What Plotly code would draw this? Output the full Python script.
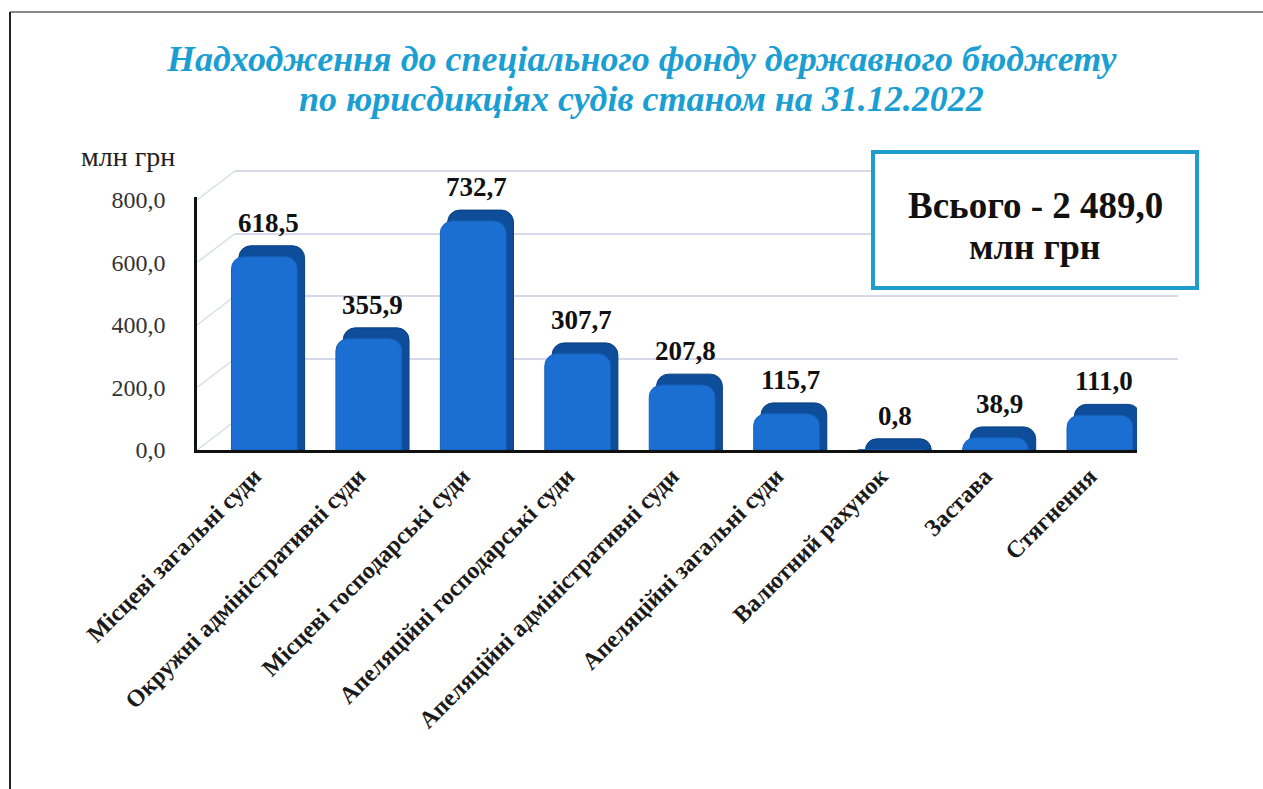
import plotly.graph_objects as go

categories = [
    "Місцеві загальні суди",
    "Окружні адміністративні суди",
    "Місцеві господарські суди",
    "Апеляційні господарські суди",
    "Апеляційні адміністративні суди",
    "Апеляційні загальні суди",
    "Валютний рахунок",
    "Застава",
    "Стягнення",
]
values = [618.5, 355.9, 732.7, 307.7, 207.8, 115.7, 0.8, 38.9, 111.0]
y_ticks = [0, 200, 400, 600, 800]
title_lines = [
    "Надходження до спеціального фонду державного бюджету",
    "по юрисдикціях судів станом на 31.12.2022",
]
unit = "млн грн"


def fmt(v):
    return f"{v:,.1f}".replace(",", " ").replace(".", ",")


W, H = 1263, 789


def fx(p):
    return p / W


def fy(p):
    return 1 - p / H


SERIF = "Liberation Serif, Times New Roman, serif"

# pixel geometry of the plot
x0_px, x1_px = 197, 1137
base_px = 450
px_per_unit = 250 / 800
y_top_val = 810
top_px = base_px - y_top_val * px_per_unit
depth_dx, depth_dy = 38, 29
grid_top_val = 815

BAR_W = 0.63
SIDE_DX = 0.07      # extrusion shift (category units)
SIDE_DY = 35        # extrusion height (value units)

fig = go.Figure()

# invisible trace hosting the back-wall grid (subplot xy, drawn first -> below)
fig.add_trace(go.Scatter(x=[0.5], y=[0], xaxis="x", yaxis="y", mode="markers",
                         marker=dict(opacity=0), hoverinfo="skip", showlegend=False))

# back/extrusion face of the pseudo-3D bars
fig.add_trace(go.Bar(
    x=categories, y=[v + SIDE_DY for v in values], width=BAR_W,
    offset=-0.35 + SIDE_DX, xaxis="x2", yaxis="y2",
    marker=dict(color="#0e4d9a", line=dict(color="#0a3f80", width=1), cornerradius=12),
    hoverinfo="skip", showlegend=False,
))
# front face
fig.add_trace(go.Bar(
    x=categories, y=values, width=BAR_W, offset=-0.35, xaxis="x2", yaxis="y2",
    marker=dict(color="#1b6fd2", line=dict(color="#1560b8", width=1), cornerradius=12),
    hoverinfo="x+y", showlegend=False,
))

for c, v in zip(categories, values):
    fig.add_annotation(x=c, y=v, xref="x2", yref="y2", text=f"<b>{fmt(v)}</b>", showarrow=False,
                       yshift=34, font=dict(family=SERIF, size=27, color="#111"))

layout_shapes = []
# left-wall diagonals
for t in y_ticks:
    ya = base_px - t * px_per_unit
    layout_shapes.append(dict(type="line", xref="paper", yref="paper",
                              x0=fx(x0_px), y0=fy(ya), x1=fx(x0_px + depth_dx), y1=fy(ya - depth_dy),
                              line=dict(color="#d9dceb", width=1.5), layer="below"))

# total box
layout_shapes.append(dict(type="rect", xref="paper", yref="paper",
                          x0=fx(873), y0=fy(152), x1=fx(1197), y1=fy(288),
                          line=dict(color="#1f9dcc", width=4), fillcolor="white", layer="above"))
# page frame
layout_shapes.append(dict(type="line", xref="paper", yref="paper", x0=fx(10), y0=fy(12), x1=1, y1=fy(12),
                          line=dict(color="#8a8a8a", width=2)))
layout_shapes.append(dict(type="line", xref="paper", yref="paper", x0=fx(10), y0=fy(12), x1=fx(10), y1=0,
                          line=dict(color="#222", width=2)))

fig.update_layout(
    width=W, height=H, autosize=False,
    margin=dict(l=0, r=0, t=0, b=0, pad=0),
    paper_bgcolor="white", plot_bgcolor="rgba(0,0,0,0)",
    barmode="overlay",
    # back wall grid
    xaxis=dict(domain=[fx(x0_px + depth_dx), fx(1178)], range=[0, 1], showgrid=False,
               showticklabels=False, zeroline=False, showline=False, anchor="y", automargin=False),
    yaxis=dict(domain=[fy(base_px - depth_dy), fy(base_px - depth_dy - grid_top_val * px_per_unit)],
               range=[0, grid_top_val], tickvals=y_ticks, showticklabels=False, showgrid=True,
               gridcolor="#d6d9ea", gridwidth=1.5, zeroline=False, showline=False, anchor="x",
               automargin=False),
    # main bar axes
    xaxis2=dict(domain=[fx(x0_px), fx(x1_px)], type="category", range=[-0.68, 8.32],
                tickangle=-45, tickfont=dict(family=SERIF, size=24, color="#1a1a1a"),
                tickprefix="<b>", ticksuffix="</b>", ticklabelshift=-14,
                showline=True, linecolor="#111", linewidth=2.5, showgrid=False, zeroline=False,
                ticks="", anchor="y2", automargin=False),
    yaxis2=dict(domain=[fy(base_px), fy(top_px)], range=[0, y_top_val],
                tickvals=y_ticks, ticktext=[fmt(t) for t in y_ticks],
                tickfont=dict(family=SERIF, size=24, color="#333"), ticklabelstandoff=24,
                showline=True, linecolor="#111", linewidth=2.5, showgrid=False, zeroline=False,
                ticks="", anchor="x2", automargin=False),
    shapes=layout_shapes,
)

# title (two lines)
for line, ypx in zip(title_lines, [59, 99]):
    fig.add_annotation(xref="paper", yref="paper", x=fx(641), y=fy(ypx), xanchor="center", yanchor="middle",
                       text=f"<b><i>{line}</i></b>", showarrow=False,
                       font=dict(family=SERIF, size=36, color="#1b9fd3"))
# unit label
fig.add_annotation(xref="paper", yref="paper", x=fx(128), y=fy(156), xanchor="center", yanchor="middle",
                   text=unit, showarrow=False, font=dict(family=SERIF, size=28, color="#222"))
# total box text
total = sum(values)
fig.add_annotation(xref="paper", yref="paper", x=fx(1035), y=fy(205), xanchor="center", yanchor="middle",
                   text=f"<b>Всього - {fmt(total)}</b>", showarrow=False,
                   font=dict(family=SERIF, size=37, color="#111"))
fig.add_annotation(xref="paper", yref="paper", x=fx(1035), y=fy(247), xanchor="center", yanchor="middle",
                   text=f"<b>{unit}</b>", showarrow=False,
                   font=dict(family=SERIF, size=36, color="#111"))

fig.write_html("out.html", config={"displayModeBar": False},
               post_script="document.body.style.margin='0';")
